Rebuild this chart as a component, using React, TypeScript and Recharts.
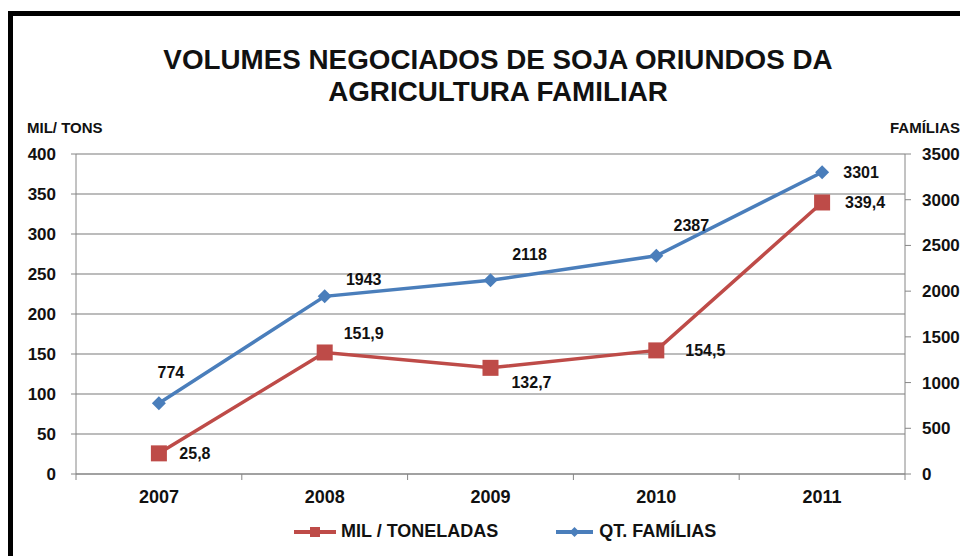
import { CartesianGrid, Line, LineChart, LabelList, XAxis, YAxis } from "recharts";

const years = ["2007", "2008", "2009", "2010", "2011"];
const milToneladas = [25.8, 151.9, 132.7, 154.5, 339.4];
const qtFamilias = [774, 1943, 2118, 2387, 3301];
const leftTicks = [0, 50, 100, 150, 200, 250, 300, 350, 400];
const rightTicks = [0, 500, 1000, 1500, 2000, 2500, 3000, 3500];

const data = years.map((year, i) => ({ year, mil: milToneladas[i], familias: qtFamilias[i] }));

const RED = "#BE4B48";
const BLUE = "#4A7EBB";
const FONT = "'Liberation Sans', Arial, sans-serif";

// label offsets from each point, as in the original sheet
const blueOffsets = [[12, -31], [39, -17], [39, -26], [35, -30], [39, 0]];
const redOffsets = [[36, 0], [39, -19], [41, 15], [49, 0], [43, 0]];

const W = 960;
const H = 548;
const PLOT_LEFT = 68;
const PLOT_RIGHT = 897;
const BAND = (PLOT_RIGHT - PLOT_LEFT) / years.length;

function makeLabel(offsets: number[][], fmt: (v: number) => string) {
  return (props: any) => {
    const { x, y, value, index } = props;
    const [dx, dy] = offsets[index];
    return (
      <text x={x + dx} y={y + dy} textAnchor="middle" dominantBaseline="central"
        fontFamily={FONT} fontWeight="bold" fontSize={16} fill="#111">
        {fmt(value)}
      </text>
    );
  };
}

function YearTick(props: any) {
  const { x, y, payload, index } = props;
  const axisY = y - 8;
  return (
    <g>
      <line x1={x - BAND / 2} x2={x - BAND / 2} y1={axisY} y2={axisY + 6} stroke="#868686" />
      {index === years.length - 1 && (
        <line x1={x + BAND / 2} x2={x + BAND / 2} y1={axisY} y2={axisY + 6} stroke="#868686" />
      )}
      <text x={x} y={axisY + 23} textAnchor="middle" dominantBaseline="central"
        fontFamily={FONT} fontWeight="bold" fontSize={18} fill="#111">
        {payload.value}
      </text>
    </g>
  );
}

function Diamond(props: any) {
  const { cx, cy } = props;
  return <path d={`M${cx},${cy - 7} L${cx + 7},${cy} L${cx},${cy + 7} L${cx - 7},${cy} Z`} fill={BLUE} />;
}

function Square(props: any) {
  const { cx, cy } = props;
  return <rect x={cx - 8} y={cy - 8} width={16} height={16} fill={RED} />;
}

const tickStyle = { fontFamily: FONT, fontWeight: "bold", fontSize: 17, fill: "#111" };
const textStyle = { position: "absolute" as const, fontFamily: FONT, fontWeight: "bold", color: "#111", whiteSpace: "nowrap" as const };

export default function App() {
  return (
    <div style={{ position: "relative", width: W, height: H, background: "#fff" }}>
      <div style={{ position: "absolute", left: 0, top: 3, right: 0, bottom: 0, borderTop: "5px solid #000", borderLeft: "5px solid #000" }} />
      <div style={{ ...textStyle, left: 0, width: 980, top: 36, textAlign: "center", fontSize: 27.8, lineHeight: "32px" }}>
        VOLUMES NEGOCIADOS DE SOJA ORIUNDOS DA<br />AGRICULTURA FAMILIAR
      </div>
      <div style={{ ...textStyle, left: 19, top: 111, fontSize: 15 }}>MIL/ TONS</div>
      <div style={{ ...textStyle, right: 8, top: 111, fontSize: 15 }}>FAMÍLIAS</div>
      <LineChart width={W} height={H} data={data} margin={{ top: 146, right: 0, bottom: 0, left: 0 }}>
        <CartesianGrid vertical={false} yAxisId="left" stroke="#A6A6A6" strokeWidth={1.5} />
        <XAxis dataKey="year" scale="band" height={82} axisLine={{ stroke: "#868686" }} tickLine={false}
          tick={<YearTick />} tickMargin={8} tickSize={0} interval={0} />
        <YAxis yAxisId="left" orientation="left" width={68} domain={[0, 400]} ticks={leftTicks}
          axisLine={{ stroke: "#868686" }} tickLine={{ stroke: "#868686" }} tickSize={5} tickMargin={15}
          tick={tickStyle} interval={0} />
        <YAxis yAxisId="right" orientation="right" width={63} domain={[0, 3500]} ticks={rightTicks}
          axisLine={{ stroke: "#868686" }} tickLine={{ stroke: "#868686" }} tickSize={6} tickMargin={11}
          tick={tickStyle} interval={0} />
        <Line yAxisId="right" dataKey="familias" stroke={BLUE} strokeWidth={3.5} dot={<Diamond />}
          activeDot={false} isAnimationActive={false}>
          <LabelList dataKey="familias" content={makeLabel(blueOffsets, (v) => String(v))} />
        </Line>
        <Line yAxisId="left" dataKey="mil" stroke={RED} strokeWidth={3.5} dot={<Square />}
          activeDot={false} isAnimationActive={false}>
          <LabelList dataKey="mil" content={makeLabel(redOffsets, (v) => v.toFixed(1).replace(".", ","))} />
        </Line>
      </LineChart>
      <div style={{ ...textStyle, left: 286, top: 513, fontSize: 18, display: "flex", alignItems: "center" }}>
        <svg width={42} height={14} style={{ marginRight: 5 }}>
          <line x1={0} x2={42} y1={7} y2={7} stroke={RED} strokeWidth={4} />
          <rect x={16} y={2} width={10} height={10} fill={RED} />
        </svg>
        MIL / TONELADAS
        <svg width={37} height={14} style={{ marginLeft: 58, marginRight: 6 }}>
          <line x1={0} x2={37} y1={7} y2={7} stroke={BLUE} strokeWidth={4} />
          <path d="M18.5,2 L23.5,7 L18.5,12 L13.5,7 Z" fill={BLUE} />
        </svg>
        QT. FAMÍLIAS
      </div>
    </div>
  );
}
